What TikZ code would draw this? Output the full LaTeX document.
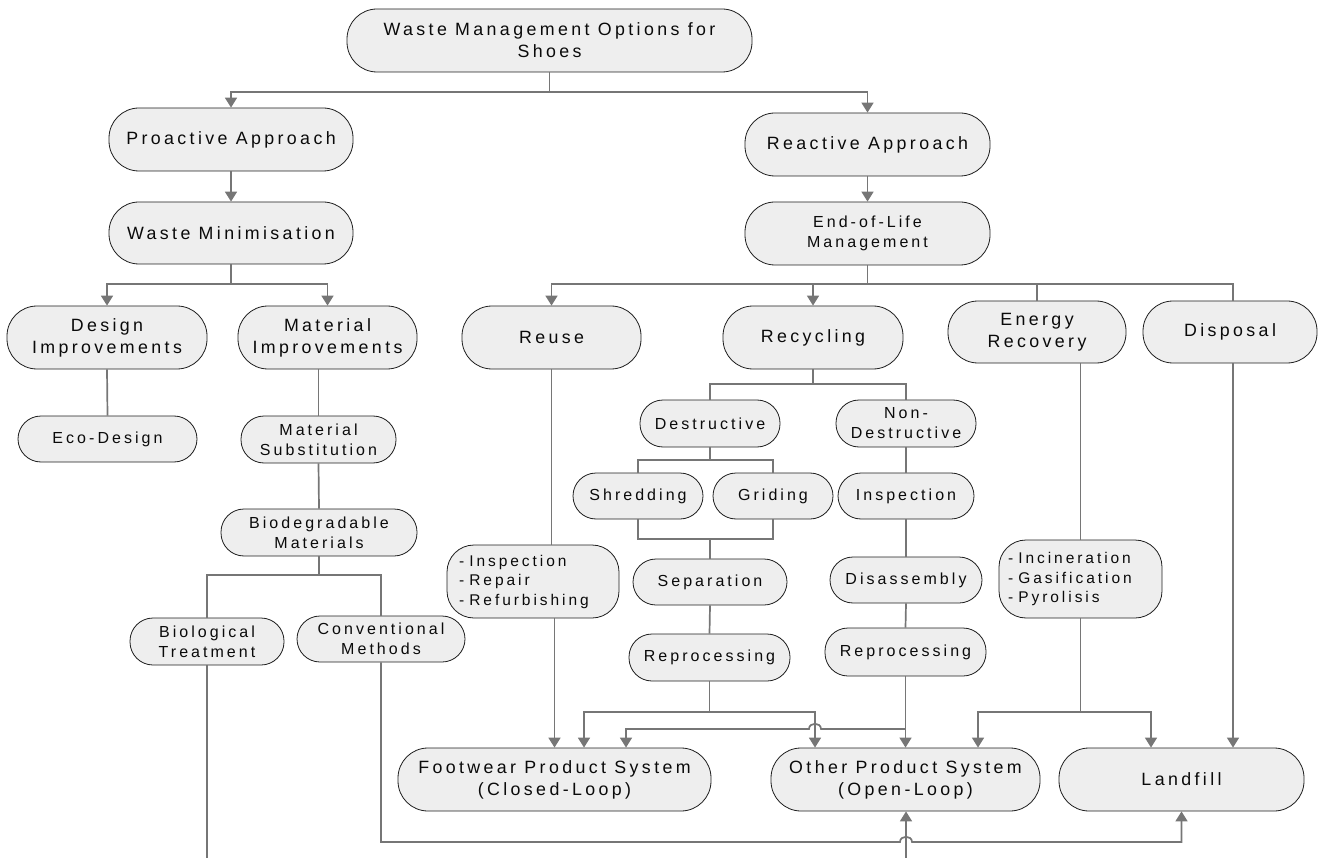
\documentclass[tikz,border=0pt]{standalone}
\usepackage{fontspec}
\setmainfont{Liberation Sans}[LetterSpace=19,Ligatures=CommonOff]
\usetikzlibrary{arrows.meta}
\definecolor{conn}{RGB}{118,118,118}
\definecolor{boxfill}{RGB}{238,238,238}
\definecolor{boxline}{RGB}{30,30,30}
\definecolor{txt}{RGB}{10,10,10}
\newcommand\bigfont{\fontsize{17.8}{22}\selectfont}
\newcommand\smfont{\fontsize{16}{20}\selectfont}
\newcommand\lifont{\fontsize{15.5}{19.5}\selectfont}
\begin{document}
\begin{tikzpicture}[x=1pt,y=-1pt,
  box/.style={draw=boxline, line width=0.8pt, fill=boxfill, text=txt, align=center, inner sep=0pt},
  big/.style={box, rounded corners=30pt, font=\bigfont, minimum height=63pt},
  sm/.style={box, rounded corners=23pt, font=\smfont, minimum height=46pt},
  lst/.style={box, rounded corners=27pt, font=\lifont, align=left, inner ysep=0pt},
  line/.style={draw=conn, line width=1.7pt},
  arr/.style={line, -{Triangle[width=12pt,length=10pt]}}]
\useasboundingbox (0,0) rectangle (1319,858);
% nodes
\node[big, minimum width=405pt] (top) at (549.5,40.5) {Waste Management Options for\\Shoes};
\node[big, minimum width=244pt] (pro) at (231,139.5) {Proactive Approach};
\node[big, minimum width=244pt, minimum height=62pt] (wmin) at (231,233) {Waste Minimisation};
\node[big, minimum width=245pt] (react) at (867.5,144.5) {Reactive Approach};
\node[big, minimum width=245pt, font=\smfont] (eol) at (867.5,233.5) {End-of-Life\\Management};
\node[big, minimum width=200pt] (design) at (107,337.5) {Design\\Improvements};
\node[big, minimum width=179pt] (matimp) at (327.5,337.5) {Material\\Improvements};
\node[sm, minimum width=179pt] (eco) at (107.5,439) {Eco-Design};
\node[sm, minimum width=155pt, minimum height=47pt] (matsub) at (318.5,439.5) {Material\\Substitution};
\node[sm, minimum width=196pt, minimum height=47pt] (biodeg) at (319,532.5) {Biodegradable\\Materials};
\node[sm, minimum width=154pt, minimum height=47pt] (bio) at (207,641.5) {Biological\\Treatment};
\node[sm, minimum width=168pt] (conv) at (381,639) {Conventional\\Methods};
\node[big, minimum width=179pt] (reuse) at (551.5,337.5) {Reuse};
\node[big, minimum width=180pt] (recyc) at (813,337.5) {Recycling};
\node[big, minimum width=178pt, minimum height=62pt] (energy) at (1037,332) {Energy\\Recovery};
\node[big, minimum width=174pt, minimum height=62pt] (disposal) at (1230,332) {Disposal};
\node[sm, minimum width=140pt, minimum height=47pt] (destr) at (710,423.5) {Destructive};
\node[sm, minimum width=140pt, minimum height=47pt] (nondestr) at (906,423.5) {Non-\\Destructive};
\node[sm, minimum width=130pt] (shred) at (638,496) {Shredding};
\node[sm, minimum width=120pt] (grid) at (773,496) {Griding};
\node[sm, minimum width=154pt] (sep) at (710,582) {Separation};
\node[sm, minimum width=161pt, minimum height=47pt] (repA) at (709.5,657.5) {Reprocessing};
\node[sm, minimum width=136pt] (insp) at (906,496) {Inspection};
\node[sm, minimum width=152pt] (disas) at (906,580) {Disassembly};
\node[sm, minimum width=161pt, minimum height=48pt] (repB) at (905.5,652) {Reprocessing};
\node[lst, text width=148pt, inner xsep=12pt, minimum height=73pt] (rlist) at (533,581.5) {- Inspection\\- Repair\\- Refurbishing};
\node[lst, text width=145pt, inner xsep=9pt, minimum height=78pt] (elist) at (1080.5,579) {- Incineration\\- Gasification\\- Pyrolisis};
\node[big, minimum width=313pt] (foot) at (554.5,779.5) {Footwear Product System\\(Closed-Loop)};
\node[big, minimum width=269pt] (other) at (905.5,779.5) {Other Product System\\(Open-Loop)};
\node[big, minimum width=245pt] (land) at (1181.5,779.5) {Landfill};
% bus levels and columns
\coordinate (b1) at (0,92);
\coordinate (b2) at (0,284);
\coordinate (b3) at (0,384);
\coordinate (b4) at (0,460);
\coordinate (b5) at (0,539);
\coordinate (b6) at (0,575);
\coordinate (b7) at (0,712);
\coordinate (b8) at (0,729);
\coordinate (x584) at (584,0);
\coordinate (x626) at (626,0);
\coordinate (x815) at (815,0);
\coordinate (x978) at (978,0);
\coordinate (x1151) at (1151,0);
\coordinate (x1233) at (1233,0);
\coordinate (outA) at (207,858);
\coordinate (inB) at (906,858);
% connectors
\draw[line] (top.south) -- (top.south |- b1);
\draw[arr] (top.south |- b1) -| (pro.north);
\draw[arr] (top.south |- b1) -| (react.north);
\draw[arr] (pro.south) -- (wmin.north);
\draw[line] (wmin.south) -- (wmin.south |- b2);
\draw[arr] (wmin.south |- b2) -| (design.north);
\draw[arr] (wmin.south |- b2) -| (matimp.north);
\draw[line] (design.south) -- (eco.north);
\draw[line] (matsub.north |- matimp.south) -- (matsub.north);
\draw[line] (matsub.south) -- (biodeg.north);
\draw[line] (biodeg.south) -- (biodeg.south |- b6);
\draw[line] (biodeg.south |- b6) -| (bio.north);
\draw[line] (biodeg.south |- b6) -| (conv.north);
\draw[line] (bio.south) -- (outA);
\draw[arr] (conv.south) |- (900,842) .. controls (900,835) and (912,835) .. (912,842) -| (land.south);
\draw[arr] (inB) -- (inB |- other.south);
\draw[arr] (react.south) -- (eol.north);
\draw[line] (eol.south) -- (eol.south |- b2);
\draw[arr] (eol.south |- b2) -| (reuse.north);
\draw[arr] (eol.south |- b2) -| (recyc.north);
\draw[line] (eol.south |- b2) -| (energy.north);
\draw[line] (eol.south |- b2) -| (x1233 |- disposal.north);
\draw[line] (reuse.south) -- (reuse.south |- rlist.north);
\draw[arr] (foot.north |- rlist.south) -- (foot.north);
\draw[line] (recyc.south) -- (recyc.south |- b3);
\draw[line] (recyc.south |- b3) -| (destr.north);
\draw[line] (recyc.south |- b3) -| (nondestr.north);
\draw[line] (destr.south) -- (destr.south |- b4);
\draw[line] (destr.south |- b4) -| (shred.north);
\draw[line] (destr.south |- b4) -| (grid.north);
\draw[line] (shred.south) |- (grid.south |- b5) -- (grid.south);
\draw[line] (sep.north |- b5) -- (sep.north);
\draw[line] (sep.south) -- (repA.north);
\draw[line] (repA.south) -- (repA.south |- b7);
\draw[arr] (repA.south |- b7) -| (x584 |- foot.north);
\draw[arr] (repA.south |- b7) -| (x815 |- other.north);
\draw[line] (nondestr.south) -- (insp.north);
\draw[line] (insp.south) -- (disas.north);
\draw[line] (disas.south) -- (repB.north);
\draw[arr] (repB.south) -- (repB.south |- other.north);
\draw[arr] (repB.south |- b8) -- (821,729) .. controls (821,722) and (809,722) .. (809,729) -| (x626 |- foot.north);
\draw[line] (elist.north |- energy.south) -- (elist.north);
\draw[line] (elist.south) -- (elist.south |- b7);
\draw[arr] (elist.south |- b7) -| (x978 |- other.north);
\draw[arr] (elist.south |- b7) -| (x1151 |- land.north);
\draw[arr] (x1233 |- disposal.south) -- (x1233 |- land.north);
\end{tikzpicture}
\end{document}
